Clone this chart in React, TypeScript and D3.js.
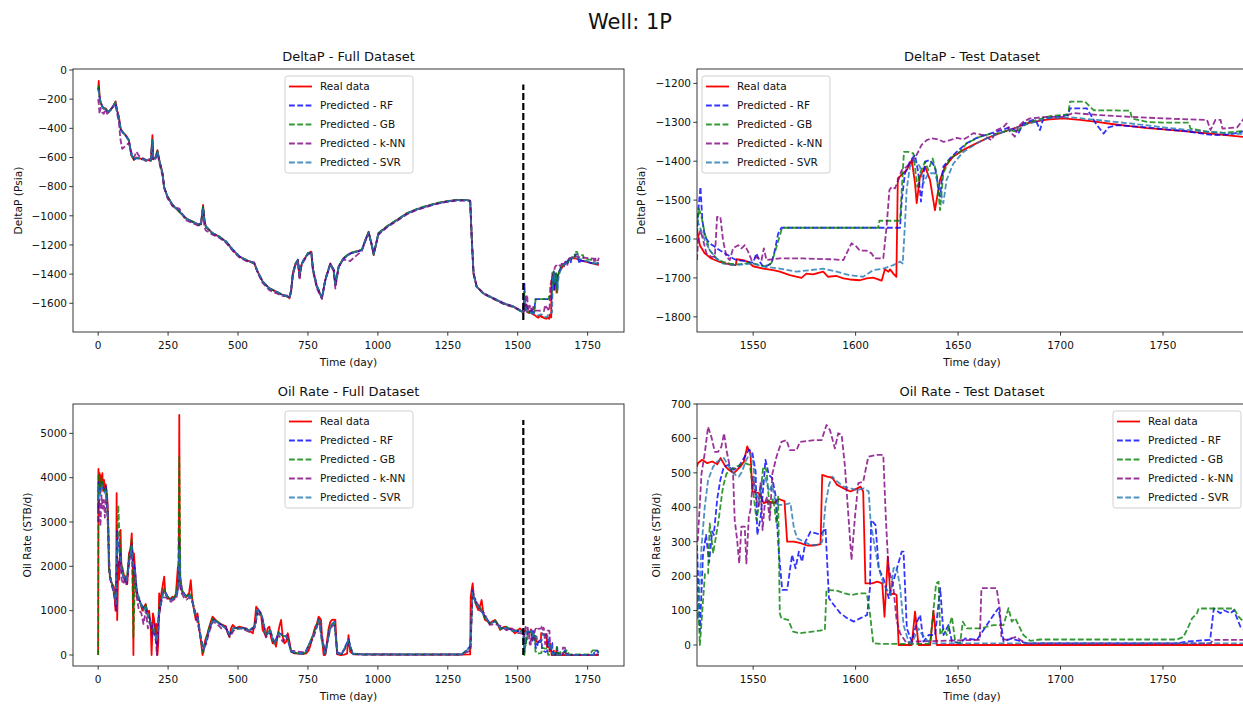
import React from "react";
import * as d3 from "d3";

type Pt = [number, number];

// ---- DeltaP, training period (shared day grid) ----
const dpTrainDays = [
  0, 2, 5, 8, 14, 20, 26, 32, 38, 46,
  56, 62, 68, 74, 80, 86, 98, 110, 118, 128,
  137, 146, 158, 170, 182, 188, 194, 197, 205, 212,
  218, 224, 230, 236, 248, 266, 290, 313, 337, 361,
  368, 375, 380, 385, 409, 433, 457, 481, 505, 529,
  558, 570, 588, 612, 636, 660, 678, 684, 690, 696,
  705, 714, 720, 726, 732, 750, 762, 768, 782, 800,
  812, 830, 842, 848, 860, 877, 901, 943, 955, 967,
  979, 985, 1002, 1032, 1068, 1104, 1139, 1175, 1211, 1246,
  1282, 1320, 1330, 1336, 1342, 1353, 1377, 1413, 1449, 1485,
  1514, 1520,
];
const dpTrainReal = [
  -140, -75, -180, -217, -250, -265, -263, -280, -286, -270,
  -240, -215, -280, -320, -400, -423, -446, -480, -583, -617,
  -600, -606, -610, -617, -620, -622, -446, -610, -600, -549,
  -617, -660, -709, -811, -869, -926, -971, -1017, -1040, -1063,
  -1050, -926, -1030, -1074, -1120, -1143, -1177, -1234, -1280, -1303,
  -1326, -1383, -1451, -1497, -1520, -1543, -1554, -1566, -1520, -1394,
  -1330, -1303, -1420, -1340, -1314, -1257, -1246, -1371, -1486, -1566,
  -1440, -1326, -1371, -1474, -1349, -1291, -1257, -1234, -1166, -1109,
  -1211, -1269, -1120, -1074, -1029, -983, -955, -933, -914, -901,
  -891, -893, -896, -1166, -1394, -1486, -1531, -1566, -1600, -1623,
  -1657, -1665,
];
const dpTrainRF = [
  -130, -125, -190, -215, -245, -268, -265, -282, -284, -268,
  -242, -225, -285, -330, -405, -425, -450, -485, -575, -612,
  -605, -608, -612, -615, -618, -620, -491, -612, -598, -560,
  -612, -665, -712, -805, -870, -924, -968, -1015, -1042, -1060,
  -1048, -940, -1035, -1072, -1118, -1145, -1175, -1230, -1278, -1305,
  -1324, -1385, -1448, -1500, -1518, -1545, -1552, -1562, -1510, -1400,
  -1335, -1300, -1410, -1345, -1310, -1260, -1250, -1365, -1480, -1560,
  -1445, -1330, -1368, -1465, -1352, -1294, -1260, -1236, -1170, -1115,
  -1205, -1262, -1125, -1076, -1031, -985, -957, -935, -916, -903,
  -893, -894, -898, -1160, -1390, -1484, -1530, -1565, -1598, -1622,
  -1655, -1663,
];
const dpTrainGB = [
  -135, -110, -185, -220, -252, -262, -266, -278, -288, -272,
  -238, -220, -282, -325, -398, -420, -448, -482, -580, -615,
  -602, -604, -608, -618, -621, -624, -470, -608, -602, -555,
  -615, -662, -706, -808, -866, -928, -973, -1018, -1038, -1065,
  -1052, -935, -1028, -1076, -1122, -1141, -1178, -1236, -1282, -1301,
  -1328, -1380, -1453, -1495, -1522, -1541, -1556, -1564, -1515, -1398,
  -1328, -1306, -1415, -1338, -1316, -1255, -1248, -1368, -1484, -1562,
  -1442, -1328, -1373, -1470, -1347, -1289, -1255, -1232, -1168, -1112,
  -1208, -1266, -1118, -1072, -1027, -981, -953, -931, -912, -899,
  -890, -892, -897, -1170, -1392, -1488, -1533, -1568, -1602, -1625,
  -1658, -1664,
];
const dpTrainKNN = [
  -200, -230, -300, -260, -290, -300, -270, -300, -290, -265,
  -250, -240, -300, -360, -480, -540, -520, -500, -560, -600,
  -560, -590, -600, -625, -610, -615, -520, -620, -610, -570,
  -630, -680, -720, -800, -880, -935, -950, -1030, -1050, -1070,
  -1060, -960, -1080, -1100, -1130, -1150, -1185, -1240, -1285, -1310,
  -1320, -1390, -1460, -1510, -1530, -1550, -1545, -1560, -1500, -1410,
  -1340, -1310, -1440, -1350, -1320, -1265, -1255, -1380, -1500, -1570,
  -1430, -1335, -1380, -1500, -1345, -1300, -1310, -1240, -1175, -1120,
  -1200, -1260, -1130, -1080, -1035, -990, -960, -938, -918, -905,
  -895, -896, -900, -1180, -1400, -1480, -1535, -1570, -1605, -1628,
  -1650, -1660,
];
const dpTrainSVR = [
  -150, -140, -185, -218, -248, -266, -264, -281, -285, -271,
  -243, -225, -283, -322, -402, -424, -447, -481, -578, -614,
  -603, -607, -611, -616, -619, -621, -480, -611, -601, -558,
  -614, -663, -710, -808, -868, -925, -970, -1016, -1041, -1062,
  -1050, -945, -1032, -1073, -1119, -1144, -1176, -1232, -1279, -1303,
  -1325, -1382, -1450, -1498, -1519, -1543, -1553, -1563, -1512, -1405,
  -1332, -1304, -1412, -1342, -1313, -1258, -1249, -1366, -1483, -1562,
  -1443, -1329, -1370, -1468, -1350, -1292, -1258, -1235, -1169, -1113,
  -1207, -1264, -1122, -1075, -1030, -984, -956, -934, -915, -902,
  -892, -893, -897, -1165, -1390, -1485, -1531, -1566, -1600, -1623,
  -1656, -1664,
];

// ---- DeltaP, test period [day, value] ----
const dpTestReal: Pt[] = [
  [1522.6, -1575], [1524, -1616], [1526.4, -1637], [1529.6, -1650], [1533.7, -1659], [1538.6, -1665],
  [1541.5, -1667], [1542, -1652], [1545, -1654], [1547.6, -1659], [1550, -1670], [1554.9, -1676],
  [1559.8, -1680], [1563, -1684], [1567.9, -1693], [1573.6, -1700], [1576, -1689], [1579.3, -1691],
  [1581.8, -1687], [1584.2, -1684], [1586.6, -1697], [1590.7, -1695], [1594, -1701], [1597.2, -1704],
  [1602.1, -1706], [1605.4, -1701], [1608.6, -1699], [1612.7, -1707], [1614.3, -1678], [1616, -1684],
  [1616.8, -1678], [1618.4, -1689], [1619.9, -1697], [1620.6, -1444], [1624.9, -1423], [1627.4, -1397],
  [1629, -1457], [1629.8, -1508], [1631.4, -1440], [1633.9, -1414], [1636.3, -1448], [1638.7, -1526],
  [1641.2, -1448], [1643.6, -1414], [1647.7, -1388], [1652.6, -1371], [1657.4, -1358], [1664, -1341],
  [1670.4, -1328], [1676.9, -1316], [1685, -1301], [1693.2, -1293], [1701.3, -1290], [1709.5, -1294],
  [1717.7, -1299], [1725.9, -1305], [1734, -1310], [1742.2, -1315], [1750.4, -1318], [1758.5, -1322],
  [1766.6, -1326], [1774.8, -1330], [1783, -1334], [1790, -1338],
];
const dpTestRF: Pt[] = [
  [1522.6, -1569], [1523.1, -1534], [1524.3, -1466], [1525.2, -1551], [1526.4, -1594], [1528.8, -1611],
  [1531.3, -1620], [1533.7, -1629], [1536.2, -1637], [1538.6, -1644], [1540.2, -1650], [1541.9, -1654],
  [1545.1, -1656], [1547.6, -1659], [1550, -1661], [1551.6, -1637], [1553.3, -1659], [1554.9, -1671],
  [1557.3, -1667], [1559, -1663], [1560.6, -1629], [1562.2, -1586], [1563.8, -1571], [1621.7, -1571],
  [1622.5, -1500], [1624.1, -1431], [1626.5, -1401], [1629, -1384], [1630.6, -1431], [1631.9, -1504],
  [1633.9, -1401], [1636.3, -1397], [1638.7, -1414], [1641.2, -1491], [1642.8, -1414], [1646, -1393],
  [1649.3, -1376], [1654.2, -1354], [1659.1, -1340], [1664, -1332], [1668.8, -1324], [1675.3, -1313],
  [1677.7, -1320], [1679.4, -1329], [1681.8, -1303], [1686.7, -1294], [1688.3, -1299], [1690, -1320],
  [1691.6, -1290], [1698.1, -1286], [1703.8, -1281], [1704.6, -1264], [1712.8, -1264], [1715.3, -1286],
  [1717.7, -1307], [1721, -1329], [1723.4, -1313], [1727.5, -1307], [1734, -1310], [1742.2, -1313],
  [1750.3, -1318], [1760.1, -1322], [1766.6, -1327], [1771.5, -1331], [1776.4, -1333], [1783, -1331],
  [1790, -1322],
];
const dpTestGB: Pt[] = [
  [1522.6, -1586], [1523.5, -1522], [1524.8, -1543], [1526.4, -1586], [1528.8, -1629], [1532.1, -1650],
  [1535.3, -1659], [1538.6, -1663], [1543.5, -1665], [1548.4, -1661], [1553.3, -1667], [1556.5, -1671],
  [1559, -1661], [1561.4, -1620], [1563.8, -1577], [1564.5, -1571], [1611, -1571], [1611.6, -1553],
  [1621.7, -1553], [1622.5, -1474], [1623.6, -1376], [1625.7, -1376], [1628.2, -1380], [1630.1, -1466],
  [1631.4, -1431], [1633.9, -1401], [1635.5, -1423], [1637.6, -1393], [1639.5, -1431], [1641.2, -1526],
  [1642.8, -1431], [1646, -1393], [1650.9, -1376], [1654.2, -1354], [1660.7, -1337], [1665.6, -1330],
  [1668.8, -1329], [1675.3, -1320], [1678.5, -1324], [1683.4, -1303], [1688.3, -1294], [1694.9, -1284],
  [1701.4, -1281], [1703.8, -1279], [1704.6, -1247], [1712, -1247], [1716.1, -1269], [1734, -1270],
  [1734.8, -1290], [1742.2, -1299], [1750.3, -1301], [1762.6, -1301], [1763.4, -1316], [1771.5, -1324],
  [1779.7, -1327], [1790, -1322],
];
const dpTestKNN: Pt[] = [
  [1522.6, -1654], [1523.1, -1603], [1524.3, -1577], [1525.6, -1603], [1527.2, -1637], [1529.6, -1646],
  [1531.3, -1646], [1532.4, -1543], [1534, -1543], [1535.3, -1603], [1537, -1646], [1538.6, -1654],
  [1540.2, -1624], [1542.7, -1616], [1544.3, -1624], [1545.9, -1616], [1547.6, -1633], [1549.2, -1654],
  [1551.6, -1646], [1554.1, -1654], [1555.2, -1624], [1556.5, -1654], [1563, -1650], [1574.4, -1650],
  [1587.5, -1652], [1594, -1654], [1595.6, -1637], [1598, -1611], [1600.5, -1620], [1602.1, -1630],
  [1605.4, -1630], [1607.8, -1637], [1609.4, -1650], [1613.5, -1650], [1615.1, -1569], [1616.5, -1474],
  [1617.6, -1466], [1619.2, -1470], [1620.9, -1448], [1622.5, -1423], [1624.9, -1414], [1627.4, -1401],
  [1629.8, -1384], [1632.2, -1358], [1634.7, -1346], [1637.1, -1341], [1640.4, -1344], [1642.8, -1350],
  [1646.1, -1346], [1649.3, -1340], [1652.6, -1344], [1655, -1337], [1657.4, -1328], [1662.3, -1333],
  [1666.3, -1346], [1668.8, -1320], [1672, -1313], [1673.7, -1303], [1675.3, -1324], [1677.7, -1337],
  [1679.4, -1311], [1681.8, -1299], [1685.1, -1290], [1693.2, -1286], [1701.4, -1286], [1706.3, -1276],
  [1717.7, -1281], [1734, -1286], [1750.3, -1290], [1771.5, -1294], [1773.2, -1320], [1775.6, -1294],
  [1778.1, -1294], [1779, -1316], [1786.2, -1313], [1790, -1287],
];
const dpTestSVR: Pt[] = [
  [1522.6, -1551], [1524, -1569], [1526.4, -1603], [1528.8, -1629], [1532.1, -1650], [1535.3, -1663],
  [1540.2, -1667], [1545.1, -1665], [1550, -1663], [1554.9, -1671], [1563, -1676], [1571.2, -1684],
  [1577.7, -1680], [1584.2, -1676], [1590.7, -1684], [1597.2, -1693], [1603.7, -1697], [1608.6, -1680],
  [1613.5, -1676], [1618.4, -1667], [1621.7, -1658], [1623, -1663], [1624.1, -1560], [1624.9, -1474],
  [1626.5, -1414], [1629, -1397], [1631.4, -1414], [1633.1, -1457], [1635.5, -1431], [1638.7, -1431],
  [1641.2, -1474], [1642.8, -1508], [1644.4, -1448], [1647.7, -1406], [1652.6, -1376], [1659.1, -1354],
  [1665.6, -1337], [1676.9, -1316], [1693.2, -1290], [1704.6, -1287], [1717.7, -1294], [1734, -1303],
  [1750.3, -1313], [1766.6, -1322], [1783, -1329], [1790, -1330],
];

// ---- Oil rate, training period ----
const oilTrainReal: Pt[] = [
  [0, 0], [1, 4200], [3, 3900], [5, 4100], [7, 3650], [9, 4050], [12, 3800], [15, 4100], [18, 3700],
  [21, 3950], [24, 3750], [27, 3850], [30, 3700], [33, 3500], [36, 3000], [38, 1990], [44, 1690],
  [50, 1600], [56, 1540], [60, 1200], [62, 1000], [64, 1240], [66, 3650], [68, 790], [72, 2100],
  [75, 1700], [80, 2820], [83, 2000], [86, 1990], [92, 1800], [98, 1767], [104, 1600], [110, 2290],
  [116, 2400], [120, 2745], [123, 2200], [126, 0], [128, 2290], [131, 2000], [134, 1690], [140, 1316],
  [146, 1250], [152, 1165], [158, 1000], [164, 1090], [170, 1150], [176, 940], [182, 1000], [188, 640],
  [191, 0], [196, 940], [200, 800], [206, 490], [209, 700], [212, 0], [215, 300], [218, 1390],
  [221, 1000], [224, 1316], [230, 1540], [236, 1767], [240, 1400], [248, 1316], [256, 1250],
  [266, 1316], [272, 1250], [278, 1390], [285, 1990], [288, 1600], [290, 5414], [292, 1800],
  [295, 1690], [301, 1400], [307, 1390], [313, 1300], [319, 1350], [325, 1390], [331, 1690],
  [337, 1200], [343, 1015], [349, 790], [355, 940], [361, 600], [367, 340], [373, 0], [378, 150],
  [383, 340], [391, 490], [400, 700], [409, 865], [421, 780], [433, 715], [445, 680], [457, 640],
  [463, 500], [469, 414], [475, 600], [481, 677], [493, 600], [505, 640], [517, 620], [529, 600],
  [541, 540], [553, 490], [559, 700], [565, 1090], [575, 1000], [582, 940], [588, 565], [594, 500],
  [600, 414], [606, 600], [612, 640], [618, 400], [624, 263], [630, 300], [636, 188], [642, 450],
  [648, 650], [654, 790], [660, 400], [666, 263], [672, 300], [678, 490], [684, 300], [690, 75],
  [700, 40], [708, 38], [720, 30], [732, 25], [744, 38], [752, 100], [758, 200], [764, 340],
  [770, 500], [776, 640], [782, 700], [788, 865], [794, 820], [797, 790], [800, 400], [806, 0],
  [812, 0], [818, 300], [824, 600], [830, 750], [836, 790], [842, 800], [848, 790], [854, 20],
  [866, 0], [880, 10], [890, 30], [895, 450], [901, 75], [913, 15], [1000, 10], [1100, 8],
  [1200, 10], [1300, 10], [1330, 12], [1332, 1316], [1336, 1500], [1339, 1617], [1343, 1300],
  [1347, 1240], [1353, 1100], [1359, 1015], [1365, 1100], [1371, 1240], [1377, 950], [1383, 790],
  [1392, 760], [1401, 715], [1410, 760], [1419, 790], [1428, 700], [1437, 565], [1446, 620],
  [1455, 640], [1464, 580], [1473, 600], [1482, 540], [1490, 490], [1500, 550], [1508, 600],
  [1515, 560], [1520, 520],
];
const oilTrainPredDays = [
  0, 1, 4, 8, 12, 16, 20, 24, 28, 32,
  36, 40, 46, 52, 58, 64, 68, 72, 78, 84,
  90, 96, 102, 108, 114, 120, 126, 132, 138, 146,
  154, 162, 170, 178, 186, 194, 202, 210, 218, 226,
  234, 242, 250, 260, 270, 280, 286, 290, 294, 298,
  306, 316, 326, 336, 346, 356, 366, 376, 386, 396,
  410, 425, 440, 455, 470, 485, 500, 520, 540, 560,
  570, 585, 600, 615, 630, 645, 660, 675, 690, 710,
  740, 770, 790, 800, 812, 830, 845, 855, 870, 895,
  910, 950, 1100, 1300, 1331, 1338, 1350, 1365, 1380, 1400,
  1420, 1440, 1460, 1480, 1500, 1520,
];
const oilTrainRF = [
  3300, 3900, 3800, 3700, 3900, 3800, 3750, 3700, 3800, 3500,
  2900, 1900, 1650, 1550, 1400, 1100, 2800, 2500, 2300, 1900,
  1750, 1700, 1650, 2000, 2300, 2500, 2100, 1900, 1450, 1250,
  1150, 1050, 1100, 900, 800, 600, 450, 200, 1000, 1250,
  1450, 1400, 1300, 1250, 1280, 1350, 1500, 2600, 1600, 1450,
  1400, 1300, 1350, 1250, 950, 850, 400, 100, 300, 550,
  800, 750, 680, 620, 450, 620, 600, 610, 560, 650,
  1050, 900, 450, 550, 250, 500, 450, 400, 80, 30,
  35, 450, 800, 350, 20, 650, 750, 30, 10, 350,
  20, 10, 10, 10, 200, 1450, 1200, 1050, 900, 720,
  760, 600, 620, 560, 540, 530,
];
const oilTrainGB = [
  0, 4100, 3950, 3800, 4000, 3850, 3800, 3700, 3750, 3400,
  2800, 1800, 1700, 1500, 1350, 1200, 2500, 3380, 2400, 2000,
  1800, 1650, 1700, 2100, 2350, 2600, 400, 1800, 1400, 1300,
  1100, 1000, 1150, 850, 700, 500, 600, 300, 1100, 1300,
  1500, 1350, 1300, 1270, 1300, 1380, 1700, 4474, 1650, 1500,
  1380, 1320, 1400, 1300, 900, 800, 350, 50, 350, 600,
  820, 760, 700, 600, 430, 640, 590, 600, 540, 640,
  1000, 880, 430, 580, 220, 520, 430, 420, 60, 40,
  40, 480, 820, 300, 30, 700, 720, 40, 15, 300,
  30, 15, 12, 15, 150, 1400, 1150, 1100, 850, 700,
  780, 580, 640, 540, 560, 520,
];
const oilTrainKNN = [
  3000, 3300, 3500, 2900, 3600, 3300, 3500, 3100, 3600, 3300,
  2700, 2000, 1600, 1500, 1300, 1000, 2200, 2000, 2200, 1700,
  1600, 1750, 1550, 1900, 2200, 2300, 1900, 1700, 1300, 1000,
  950, 700, 1000, 600, 800, 400, 700, 0, 900, 1200,
  1300, 1300, 1250, 1200, 1250, 1300, 1500, 2000, 1500, 1400,
  1300, 1250, 1300, 1200, 1000, 700, 450, 150, 250, 500,
  750, 700, 600, 650, 400, 550, 620, 580, 520, 620,
  950, 850, 400, 500, 300, 450, 300, 450, 100, 80,
  60, 400, 780, 450, 50, 600, 700, 60, 30, 250,
  30, 20, 15, 15, 100, 1300, 1250, 1000, 950, 680,
  700, 650, 560, 600, 500, 480,
];
const oilTrainSVR = [
  3500, 3800, 3700, 3600, 3850, 3750, 3700, 3650, 3700, 3450,
  2850, 1950, 1680, 1560, 1380, 1150, 2600, 2400, 2250, 1950,
  1780, 1720, 1680, 1950, 2250, 2450, 2000, 1850, 1420, 1230,
  1130, 1030, 1080, 880, 780, 650, 500, 300, 950, 1230,
  1420, 1380, 1290, 1240, 1270, 1330, 1600, 2400, 1650, 1550,
  1380, 1290, 1340, 1240, 940, 830, 420, 120, 320, 540,
  790, 740, 670, 610, 460, 610, 600, 600, 550, 640,
  1030, 890, 440, 540, 260, 490, 440, 410, 90, 40,
  40, 460, 790, 330, 30, 640, 740, 40, 15, 330,
  25, 15, 12, 12, 180, 1420, 1180, 1040, 880, 710,
  750, 590, 610, 550, 530, 520,
];

// ---- Oil rate, test period ----
const oilTestReal: Pt[] = [
  [1522.6, 518], [1523, 528], [1525.1, 538], [1527.6, 528], [1530, 533], [1532.5, 525], [1534.1, 543],
  [1536.5, 518], [1538.1, 509], [1540.6, 499], [1542.2, 509], [1543.8, 518], [1545.5, 533], [1547.1, 577],
  [1548.7, 557], [1549.6, 446], [1552.8, 441], [1555.2, 412], [1557.7, 417], [1560.1, 412], [1562.5, 424],
  [1565.3, 418], [1566.6, 300], [1569.9, 300], [1573.1, 296], [1576.4, 289], [1579.6, 289], [1582.9, 293],
  [1583.7, 494], [1586.1, 489], [1588.6, 486], [1591, 465], [1594.2, 455], [1597.5, 446], [1600.8, 455],
  [1602.4, 460], [1603.7, 446], [1604.8, 179], [1608.1, 179], [1610.5, 184], [1613, 179], [1614.1, 82],
  [1615.7, 257], [1617, 145], [1618.6, 150], [1620, 145], [1621, 0], [1627.4, 0], [1629, 97],
  [1630.7, 0], [1636.4, 0], [1638, 100], [1639.6, 0], [1790, 0],
];
const oilTestRF: Pt[] = [
  [1522.6, 290], [1524, 40], [1525.5, 260], [1527, 320], [1528.5, 240], [1530, 330], [1530.8, 320],
  [1532.5, 426], [1534, 480], [1535.7, 518], [1538.1, 523], [1540.6, 509], [1543, 518], [1545.5, 543],
  [1547.9, 567], [1549.5, 562], [1551.2, 504], [1552, 320], [1553.6, 368], [1555.2, 475], [1556, 538],
  [1557.7, 494], [1559.3, 485], [1560.9, 436], [1562.5, 271], [1564.2, 160], [1566.6, 160], [1569, 262],
  [1570.7, 223], [1572.3, 271], [1573.9, 242], [1575.5, 300], [1578, 329], [1580.4, 325], [1582.9, 320],
  [1585.3, 339], [1587, 136], [1589.4, 116], [1592.6, 92], [1595.9, 78], [1599.1, 68], [1602.4, 78],
  [1605.6, 87], [1607, 165], [1607.6, 363], [1609.7, 349], [1611.3, 223], [1613.8, 189], [1616.2, 136],
  [1618.6, 189], [1620.2, 223], [1622.5, 271], [1623.4, 271], [1625, 48], [1627.4, 10], [1630, 68],
  [1631.5, 87], [1633.1, 10], [1635.6, 29], [1638.8, 29], [1641.3, 165], [1642.9, 29], [1645.3, 58],
  [1647, 10], [1651, 5], [1653.5, 19], [1659.2, 15], [1660.8, 29], [1664, 58], [1667.3, 87],
  [1669.7, 107], [1671.3, 48], [1672.2, 10], [1676.2, 19], [1683.5, 5], [1757, 5], [1761.7, 10],
  [1773, 15], [1774.8, 106], [1778, 92], [1779.7, 101], [1783, 92], [1784.6, 101], [1787.8, 53],
  [1790, 44],
];
const oilTestGB: Pt[] = [
  [1522.6, 218], [1524, 0], [1526.5, 208], [1528, 208], [1528.8, 353], [1530.5, 266], [1532.9, 353],
  [1535.3, 460], [1537, 498], [1540.2, 513], [1543.5, 523], [1545.9, 528], [1548.4, 523], [1550, 450],
  [1551.6, 363], [1553.3, 421], [1554.9, 518], [1556.5, 508], [1558.1, 392], [1559.8, 426], [1561.4, 353],
  [1562.2, 431], [1563, 92], [1563.8, 77], [1567.1, 73], [1569.5, 39], [1572.8, 34], [1582.6, 42],
  [1585, 44], [1585.8, 160], [1590.7, 158], [1594.8, 150], [1598, 145], [1602.1, 150], [1605.4, 150],
  [1607, 92], [1608.6, 5], [1613.5, 3], [1636.3, 3], [1639.3, 179], [1640.5, 184], [1641.3, 29],
  [1643, 48], [1644.5, 29], [1647, 82], [1648.6, 10], [1651, 5], [1652.3, 68], [1654.3, 48],
  [1660.8, 48], [1664, 53], [1667.3, 58], [1672.2, 58], [1674.6, 107], [1676.2, 68], [1677.9, 78],
  [1680.3, 48], [1681.9, 29], [1685.2, 12], [1690, 16], [1757, 16], [1760, 24], [1761.7, 44],
  [1764.2, 77], [1766.6, 92], [1767.4, 106], [1784.6, 106], [1787, 82], [1790, 63],
];
const oilTestKNN: Pt[] = [
  [1522.6, 300], [1523, 305], [1524.8, 498], [1526.4, 557], [1528, 634], [1529.6, 605], [1531.3, 561],
  [1532.9, 561], [1534.5, 576], [1535.8, 615], [1537, 566], [1538.6, 518], [1540.2, 498], [1541, 363],
  [1542.2, 305], [1543.2, 237], [1544.3, 344], [1545.9, 344], [1546.7, 237], [1547.9, 373], [1548.7, 392],
  [1550, 489], [1551.3, 431], [1552.4, 402], [1553.6, 470], [1554.6, 334], [1555.7, 411], [1556.8, 431],
  [1558.1, 363], [1559.4, 498], [1561.4, 547], [1563.8, 590], [1566.3, 595], [1567.9, 566], [1571.2, 566],
  [1572.8, 590], [1580.1, 595], [1583.4, 595], [1585.8, 639], [1587.5, 624], [1589.9, 571], [1591.5, 615],
  [1593.2, 610], [1594.8, 518], [1596.4, 382], [1598, 247], [1599.7, 373], [1601.3, 470], [1603.7, 474],
  [1606.2, 547], [1610.3, 552], [1613.5, 552], [1614.8, 363], [1616, 227], [1618.4, 169], [1620, 73],
  [1621.7, 34], [1624.9, 5], [1628, 10], [1660.6, 15], [1661.4, 165], [1668.8, 165], [1670.4, 102],
  [1671.2, 19], [1673.7, 15], [1678.5, 24], [1680.2, 15], [1683.4, 5], [1773, 5], [1774.8, 15],
  [1790, 15],
];
const oilTestSVR: Pt[] = [
  [1522.6, 140], [1523, 73], [1524.8, 285], [1526.4, 402], [1528, 479], [1530.5, 518], [1532.5, 533],
  [1535.7, 543], [1539, 509], [1541.4, 494], [1543, 489], [1544.6, 504], [1546.3, 533], [1548.4, 557],
  [1550, 533], [1551.2, 446], [1552.8, 417], [1554.4, 475], [1556, 485], [1557.7, 446], [1559.3, 465],
  [1560.9, 417], [1562.5, 407], [1565, 407], [1568.2, 412], [1569.9, 339], [1571.5, 310], [1574.7, 300],
  [1578, 291], [1581.2, 291], [1583.7, 300], [1585.3, 407], [1587, 465], [1588.6, 489], [1591, 475],
  [1594.2, 460], [1597.5, 455], [1600.8, 450], [1604, 455], [1606.4, 446], [1607.3, 359], [1608.9, 300],
  [1611.3, 223], [1613.8, 174], [1617, 145], [1618.5, 223], [1620, 227], [1621.7, 169], [1623.4, 58],
  [1625.8, 10], [1627.4, 5], [1630.7, 48], [1632, 34], [1634.7, 15], [1636.3, 5], [1790, 5],
];

// split marker (train/test boundary)
const splitDay = 1520;
const dpSplitRange = [-1715, -100];
const oilSplitRange = [0, 5300];

const fullXTicks = [0, 250, 500, 750, 1000, 1250, 1500, 1750];
const testXTicks = [1550, 1600, 1650, 1700, 1750];
const dpFullYTicks = [0, -200, -400, -600, -800, -1000, -1200, -1400, -1600];
const dpTestYTicks = [-1200, -1300, -1400, -1500, -1600, -1700, -1800];
const oilFullYTicks = [0, 1000, 2000, 3000, 4000, 5000];
const oilTestYTicks = [0, 100, 200, 300, 400, 500, 600, 700];

const seriesLabels = ["Real data", "Predicted - RF", "Predicted - GB", "Predicted - k-NN", "Predicted - SVR"];
const seriesColors = ["#ff0000", "#0000ff", "#008000", "#800080", "#1f77b4"];

const FONT = "'DejaVu Sans', sans-serif";
const DASH = "5.8,2.5";
const LW = 1.8;

const zipDays = (days: number[], vals: number[]): Pt[] => days.map((d, i) => [d, vals[i]] as Pt);

const dpFull: Pt[][] = [
  zipDays(dpTrainDays, dpTrainReal).concat(dpTestReal),
  zipDays(dpTrainDays, dpTrainRF).concat(dpTestRF),
  zipDays(dpTrainDays, dpTrainGB).concat(dpTestGB),
  zipDays(dpTrainDays, dpTrainKNN).concat(dpTestKNN),
  zipDays(dpTrainDays, dpTrainSVR).concat(dpTestSVR),
];
const dpTest: Pt[][] = [dpTestReal, dpTestRF, dpTestGB, dpTestKNN, dpTestSVR];
const oilFull: Pt[][] = [
  oilTrainReal.concat(oilTestReal),
  zipDays(oilTrainPredDays, oilTrainRF).concat(oilTestRF),
  zipDays(oilTrainPredDays, oilTrainGB).concat(oilTestGB),
  zipDays(oilTrainPredDays, oilTrainKNN).concat(oilTestKNN),
  zipDays(oilTrainPredDays, oilTrainSVR).concat(oilTestSVR),
];
const oilTest: Pt[][] = [oilTestReal, oilTestRF, oilTestGB, oilTestKNN, oilTestSVR];

const fmt = (v: number) => (v < 0 ? "\u2212" + Math.abs(v) : String(v));

type PanelProps = {
  id: string;
  box: [number, number, number, number];
  xDomain: [number, number];
  yDomain: [number, number];
  xTicks: number[];
  yTicks: number[];
  title: string;
  yLabel: string;
  yLabelX: number;
  data: Pt[][];
  legend: [number, number];
  split?: number[];
};

const Panel = ({ id, box, xDomain, yDomain, xTicks, yTicks, title, yLabel, yLabelX, data, legend, split }: PanelProps) => {
  const [x0, y0, x1, y1] = box;
  const xs = d3.scaleLinear().domain(xDomain).range([x0, x1]);
  const ys = d3.scaleLinear().domain(yDomain).range([y1, y0]);
  const line = d3.line<Pt>().x((d) => xs(d[0])).y((d) => ys(d[1]));
  const cx = (x0 + x1) / 2;
  const cy = (y0 + y1) / 2;
  const [lx, ly] = legend;

  return (
    <g>
      <defs>
        <clipPath id={id}>
          <rect x={x0} y={y0} width={x1 - x0} height={y1 - y0} />
        </clipPath>
      </defs>
      <g clipPath={`url(#${id})`}>
        {data.map((s, i) => (
          <path
            key={i}
            d={line(s) || ""}
            fill="none"
            stroke={seriesColors[i]}
            strokeWidth={LW}
            strokeOpacity={i === 0 ? 1 : 0.8}
            strokeDasharray={i === 0 ? undefined : DASH}
            strokeLinejoin="round"
          />
        ))}
        {split && (
          <line
            x1={xs(splitDay)}
            x2={xs(splitDay)}
            y1={ys(split[0])}
            y2={ys(split[1])}
            stroke="#000"
            strokeWidth={2.2}
            strokeDasharray="7,3"
          />
        )}
      </g>
      <rect x={x0} y={y0} width={x1 - x0} height={y1 - y0} fill="none" stroke="#222" strokeWidth={0.9} />
      {xTicks.map((t) => (
        <g key={t}>
          <line x1={xs(t)} x2={xs(t)} y1={y1} y2={y1 + 3.7} stroke="#222" strokeWidth={0.9} />
          <text x={xs(t)} y={y1 + 17} textAnchor="middle" fontSize={10.5} fontFamily={FONT} fill="#111">
            {fmt(t)}
          </text>
        </g>
      ))}
      {yTicks.map((t) => (
        <g key={t}>
          <line x1={x0 - 3.7} x2={x0} y1={ys(t)} y2={ys(t)} stroke="#222" strokeWidth={0.9} />
          <text x={x0 - 6} y={ys(t) + 3.8} textAnchor="end" fontSize={10.5} fontFamily={FONT} fill="#111">
            {fmt(t)}
          </text>
        </g>
      ))}
      <text x={cx} y={y0 - 8} textAnchor="middle" fontSize={13} fontFamily={FONT} fill="#111">
        {title}
      </text>
      <text x={cx} y={y1 + 34} textAnchor="middle" fontSize={10.7} fontFamily={FONT} fill="#111">
        Time (day)
      </text>
      <text
        transform={`translate(${yLabelX},${cy}) rotate(-90)`}
        textAnchor="middle"
        dy="0.35em"
        fontSize={10.7}
        fontFamily={FONT}
        fill="#111"
      >
        {yLabel}
      </text>
      <g>
        <rect x={lx} y={ly} width={128} height={97} rx={2.5} fill="#fff" fillOpacity={0.8} stroke="#d0d0d0" strokeWidth={1} />
        {seriesLabels.map((lab, i) => {
          const ry = ly + 10.5 + i * 19;
          return (
            <g key={lab}>
              <line
                x1={lx + 4}
                x2={lx + 27}
                y1={ry}
                y2={ry}
                stroke={seriesColors[i]}
                strokeWidth={LW}
                strokeOpacity={i === 0 ? 1 : 0.8}
                strokeDasharray={i === 0 ? undefined : DASH}
              />
              <text x={lx + 35} y={ry + 3.8} fontSize={10.5} fontFamily={FONT} fill="#111">
                {lab}
              </text>
            </g>
          );
        })}
      </g>
    </g>
  );
};

export default function App() {
  return (
    <svg
      width={1243}
      height={706}
      style={{ position: "absolute", left: 0, top: 0, background: "#fff" }}
    >
      <rect x={0} y={0} width={1243} height={706} fill="#fff" />
      <text x={630} y={29} textAnchor="middle" fontSize={21} fontFamily={FONT} fill="#111">
        Well: 1P
      </text>
      <Panel
        id="c-dp-full"
        box={[73, 69, 624, 332]}
        xDomain={[-90, 1880]}
        yDomain={[-1797, 7]}
        xTicks={fullXTicks}
        yTicks={dpFullYTicks}
        title="DeltaP - Full Dataset"
        yLabel="DeltaP (Psia)"
        yLabelX={18}
        data={dpFull}
        legend={[285, 76]}
        split={dpSplitRange}
      />
      <Panel
        id="c-dp-test"
        box={[697, 69, 1247, 332]}
        xDomain={[1522.6, 1791]}
        yDomain={[-1839, -1163]}
        xTicks={testXTicks}
        yTicks={dpTestYTicks}
        title="DeltaP - Test Dataset"
        yLabel="DeltaP (Psia)"
        yLabelX={641}
        data={dpTest}
        legend={[702, 76]}
      />
      <Panel
        id="c-oil-full"
        box={[73, 404, 624, 666]}
        xDomain={[-90, 1880]}
        yDomain={[-248, 5662]}
        xTicks={fullXTicks}
        yTicks={oilFullYTicks}
        title="Oil Rate - Full Dataset"
        yLabel="Oil Rate (STB/d)"
        yLabelX={27}
        data={oilFull}
        legend={[285, 411]}
        split={oilSplitRange}
      />
      <Panel
        id="c-oil-test"
        box={[697, 404, 1247, 666]}
        xDomain={[1522.6, 1791]}
        yDomain={[-61, 700]}
        xTicks={testXTicks}
        yTicks={oilTestYTicks}
        title="Oil Rate - Test Dataset"
        yLabel="Oil Rate (STB/d)"
        yLabelX={656}
        data={oilTest}
        legend={[1113, 411]}
      />
    </svg>
  );
}
